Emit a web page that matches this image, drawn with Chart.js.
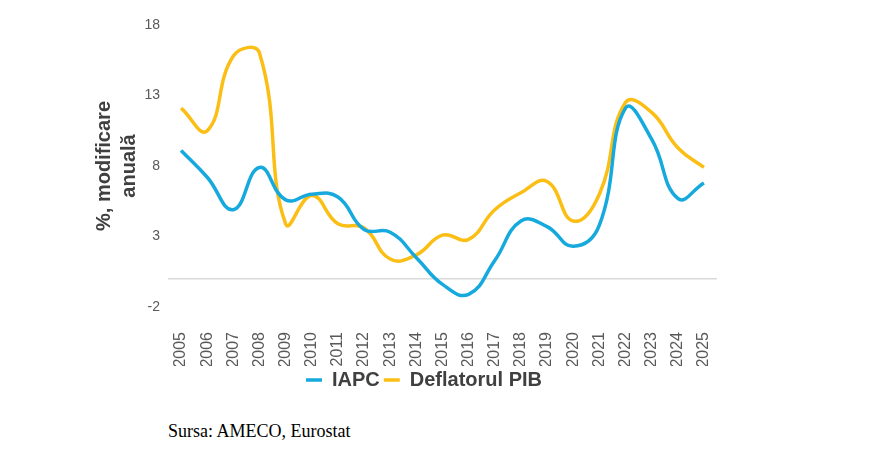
<!DOCTYPE html>
<html>
<head>
<meta charset="utf-8">
<script src="https://cdn.jsdelivr.net/npm/chart.js@4/dist/chart.umd.min.js"></script>
<style>
  body { margin: 0; background: #fff; width: 870px; height: 454px; position: relative; overflow: hidden; }
  #wrap { position: absolute; left: 0; top: 0; width: 870px; height: 400px; }
  #sursa { position: absolute; left: 168px; top: 421px; font: 18px "Liberation Serif", "Times New Roman", serif; color: #000; }
</style>
</head>
<body>
<div id="wrap"><canvas id="chart"></canvas></div>
<div id="sursa">Sursa: AMECO, Eurostat</div>
<script>
// Ani (categorii)
const years = ['2005','2006','2007','2008','2009','2010','2011','2012','2013','2014','2015',
               '2016','2017','2018','2019','2020','2021','2022','2023','2024','2025'];

// IAPC, % modificare anuală
const iapc = [9.1, 7.2, 4.9, 7.9, 5.6, 6.0, 5.8, 3.5, 3.3, 1.5, -0.4,
              -1.1, 1.3, 4.1, 3.7, 2.3, 3.8, 12.1, 9.9, 5.7, 6.8];

// Deflatorul PIB, % modificare anuală
const deflator = [12.1, 10.5, 15.8, 16.0, 3.9, 5.9, 3.9, 3.6, 1.4, 1.7, 3.1,
                  2.8, 4.9, 6.1, 6.9, 4.1, 6.0, 12.5, 11.8, 9.3, 7.9];

// Etichete axa Y (+ linia de zero)
const yTicks = [-2, 3, 8, 13, 18];
const zeroLine = 0;

const BLUE = '#16a9de';
const YELLOW = '#fbbe14';
const FONT = 'Liberation Sans, Arial, sans-serif';

const ctx = document.getElementById('chart').getContext('2d');
new Chart(ctx, {
    type: 'line',
    data: {
        labels: years,
        datasets: [{
            label: 'IAPC',
            data: iapc,
            borderColor: BLUE,
            backgroundColor: BLUE,
            borderWidth: 3.5,
            pointRadius: 0,
            pointStyle: 'line',
            tension: 0.45
        }, {
            label: 'Deflatorul PIB',
            data: deflator,
            borderColor: YELLOW,
            backgroundColor: YELLOW,
            borderWidth: 3.5,
            pointRadius: 0,
            pointStyle: 'line',
            tension: 0.45
        }]
    },
    options: {
        responsive: true,
        maintainAspectRatio: false,
        animation: false,
        layout: { padding: { left: 92, right: 114, top: 25, bottom: 0 } },
        plugins: {
            legend: {
                position: 'bottom',
                labels: {
                    usePointStyle: true,
                    pointStyleWidth: 16,
                    color: '#404040',
                    font: { family: FONT, size: 20, weight: 'bold' },
                    padding: 4
                }
            },
            tooltip: { enabled: false }
        },
        scales: {
            x: {
                offset: true,
                grid: { display: false },
                border: { display: false },
                afterFit: (scale) => { scale.height = 59; },
                ticks: {
                    autoSkip: false,
                    minRotation: 90,
                    maxRotation: 90,
                    padding: 17,
                    color: '#595959',
                    font: { family: FONT, size: 16 }
                }
            },
            y: {
                min: -2,
                max: 18,
                afterBuildTicks: (scale) => {
                    scale.ticks = yTicks.concat([zeroLine]).map(v => ({ value: v }));
                },
                afterFit: (scale) => { scale.width = 76; },
                grid: {
                    drawTicks: false,
                    lineWidth: 1.5,
                    color: (c) => (c.tick && c.tick.value === zeroLine ? '#d9d9d9' : 'rgba(0,0,0,0)')
                },
                border: { display: false },
                ticks: {
                    padding: 8,
                    color: '#595959',
                    font: { family: FONT, size: 14 },
                    callback: (v) => (v === zeroLine ? '' : v)
                },
                title: {
                    display: true,
                    text: ['%, modificare', 'anuală'],
                    color: '#404040',
                    font: { family: FONT, size: 20, weight: 'bold', lineHeight: 1.25 },
                    padding: 0
                }
            },
            // axa goala in dreapta, doar ca sa centreze legenda ca in original
            yRight: {
                position: 'right',
                display: true,
                grid: { display: false },
                border: { display: false },
                ticks: { display: false },
                afterFit: (scale) => { scale.width = 39; }
            }
        }
    }
});
</script>
</body>
</html>
